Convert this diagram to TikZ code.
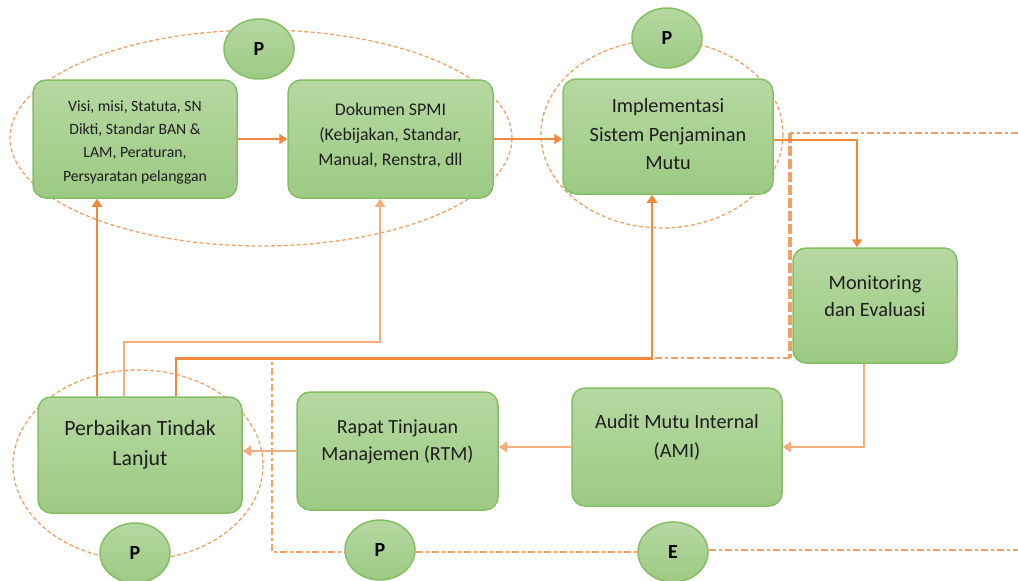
\documentclass[tikz,border=0pt]{standalone}
\usepackage{fontspec}
\setmainfont{Carlito}
\usetikzlibrary{shapes.geometric,arrows.meta}
\definecolor{boxtop}{HTML}{B6D8A2}
\definecolor{boxbot}{HTML}{9CCA83}
\definecolor{boxline}{HTML}{86BE66}
\definecolor{darkor}{HTML}{F2883C}
\definecolor{lightor}{HTML}{F4AE7E}
\definecolor{dashor}{HTML}{F3A066}
\definecolor{txt}{HTML}{1E1E1E}
\tikzset{
  stepbox/.style={draw=boxline, line width=1.5pt, rounded corners=13pt,
    top color=boxtop, bottom color=boxbot, inner sep=0pt},
  tag/.style={ellipse, draw=boxline, line width=1.5pt, top color=boxtop,
    bottom color=boxbot, minimum width=70pt, minimum height=60pt,
    inner sep=0pt, font=\fontsize{20}{20}\selectfont\bfseries, text=black},
  lbl/.style={align=center, text=txt, inner sep=0pt},
  group/.style={draw=dashor, line width=1.3pt, dash pattern=on 4pt off 2.5pt},
  conn/.style={draw=darkor, line width=2.6pt, -{Triangle[width=10pt,length=8pt]}},
  connlt/.style={draw=lightor, line width=2pt, -{Triangle[width=10pt,length=8pt]}},
  track/.style={draw=dashor, line width=2pt, dash pattern=on 7pt off 3pt on 3pt off 3pt},
  trackbold/.style={draw=dashor, line width=4pt, dash pattern=on 10pt off 3pt},
}
\begin{document}
\begin{tikzpicture}[x=1pt,y=-1pt]
\useasboundingbox (0,0) rectangle (1018,581);

% dashed groupings behind the process steps
\draw[group] (261,138) ellipse [x radius=251, y radius=108];
\draw[group] (662,134) ellipse [x radius=121, y radius=94];
\draw[group] (138,465) ellipse [x radius=125, y radius=95];

% process steps
\node[stepbox, minimum width=204pt, minimum height=118pt] (A) at (135,139) {};
\node[stepbox, minimum width=205pt, minimum height=118pt] (B) at (390.5,139) {};
\node[stepbox, minimum width=210pt, minimum height=115pt] (C) at (668,136.5) {};
\node[stepbox, minimum width=164pt, minimum height=115pt] (D) at (875,305.5) {};
\node[stepbox, minimum width=210pt, minimum height=118pt] (E) at (677,447) {};
\node[stepbox, minimum width=201pt, minimum height=118pt] (F) at (397.5,451) {};
\node[stepbox, minimum width=204pt, minimum height=116pt] (G) at (140,455) {};

\node[lbl, font=\fontsize{15.7}{23.3}\selectfont] (At) at (135,142)
  {Visi, misi, Statuta, SN\\Dikti, Standar BAN \&\\LAM, Peraturan,\\Persyaratan pelanggan};
\node[lbl, font=\fontsize{17.8}{25}\selectfont] (Bt) at (390.5,135)
  {Dokumen SPMI\\(Kebijakan, Standar,\\Manual, Renstra, dll};
\node[lbl, font=\fontsize{20.3}{28.5}\selectfont] (Ct) at (668,134.5)
  {Implementasi\\Sistem Penjaminan\\Mutu};
\node[lbl, font=\fontsize{20.3}{27}\selectfont] (Dt) at (875,296.5)
  {Monitoring\\dan Evaluasi};
\node[lbl, font=\fontsize{20.3}{29}\selectfont] (Et) at (677,437.5)
  {Audit Mutu Internal\\(AMI)};
\node[lbl, font=\fontsize{20}{27}\selectfont] (Ft) at (397.5,441.5)
  {Rapat Tinjauan\\Manajemen (RTM)};
\node[lbl, font=\fontsize{21.8}{30}\selectfont] (Gt) at (140,445)
  {Perbaikan Tindak\\Lanjut};

% phase markers
\node[tag] (P1) at (259,49) {P};
\node[tag] (P2) at (667,38) {P};
\node[tag] (P3) at (135,553) {P};
\node[tag] (P4) at (380,550) {P};
\node[tag] (Ev) at (673,552) {E};

% boundary of the evaluation phase
\coordinate (tr) at (1018,133);
\coordinate (br) at (1018,550);
\coordinate (k1) at (790,133);
\coordinate (k2) at (790,358);
\coordinate (k3) at (272,358);
\coordinate (k4) at (272,552);
\draw[track] (tr) -- (k1);
\draw[trackbold] (k1) -- (k2);
\draw[track] (k2) -- (k3) -- (k4) -- (P4.west |- k4);
\draw[track] (P4.east |- k4) -- (Ev.west |- k4);
\draw[track] (Ev.east |- br) -- (br);

% flow of the cycle
\draw[conn] (A.east) -- (A.east -| B.west);
\draw[conn] (B.east) -- (B.east -| C.west);
\draw[conn] ([yshift=-3.5pt]C.east) -| ([xshift=-18pt]D.north);
\draw[connlt] ([xshift=-11pt]D.south) |- (E.east);
\draw[connlt] (E.west) -- (E.west -| F.east);
\draw[connlt] (F.west) -- (F.west -| G.east);
\draw[conn] ([xshift=-43pt]G.north) -- ([xshift=-43pt]G.north |- A.south);
\draw[connlt] ([xshift=-16pt]G.north) -- ++(0,-54) -| ([xshift=-10.5pt]B.south);
\draw[conn] ([xshift=36pt]G.north) -- ++(0,-38) -| ([xshift=-16pt]C.south);
\end{tikzpicture}
\end{document}
